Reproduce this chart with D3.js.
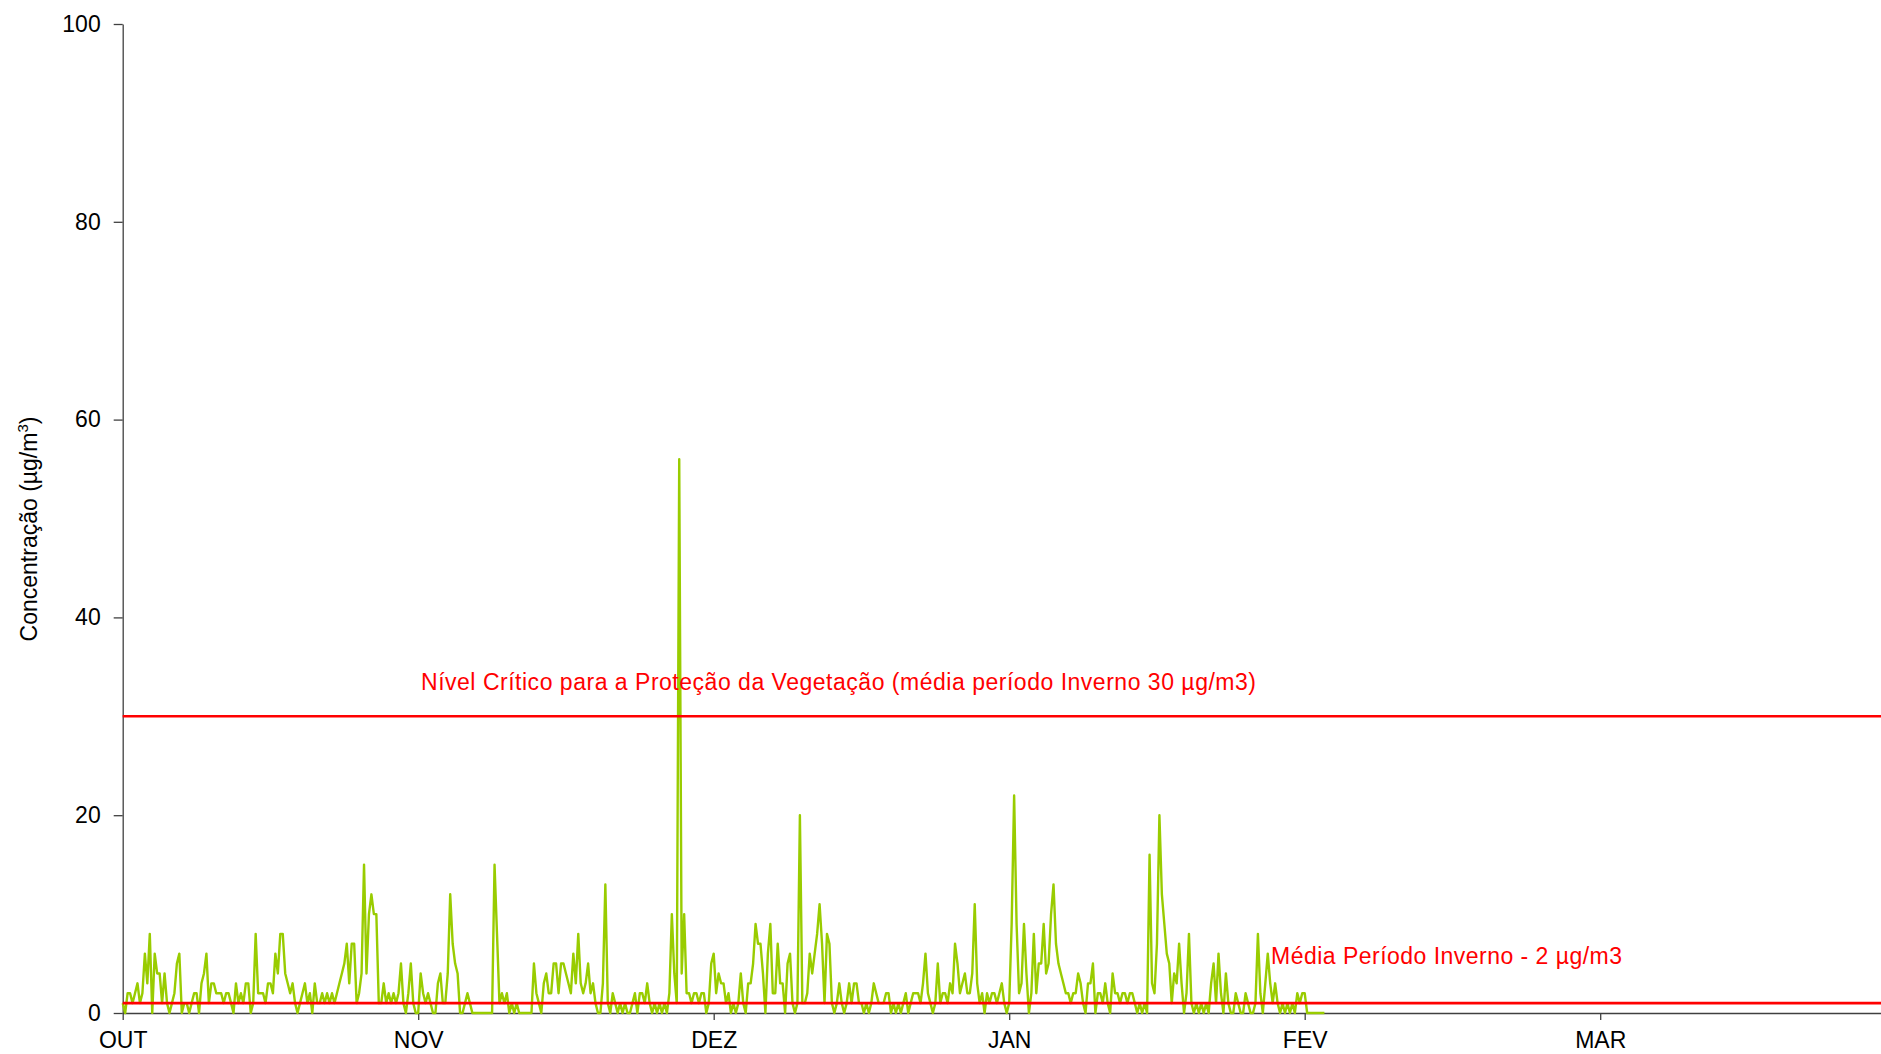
<!DOCTYPE html>
<html>
<head>
<meta charset="utf-8">
<script src="https://cdn.jsdelivr.net/npm/d3@7"></script>
<style>
  body { margin: 0; background: #fff; }
  svg { display: block; font-family: "Liberation Sans", Arial, sans-serif; }
  .axis path, .axis line { stroke: #404040; stroke-width: 1.3; }
  .axis text { fill: #000; font-size: 23px; }
</style>
</head>
<body>
<svg id="chart"></svg>
<script>
// ---- data: concentration readings, 120 points per month (every 6 h) ----
const monthLabels = ['OUT', 'NOV', 'DEZ', 'JAN', 'FEV', 'MAR'];
const yTicks = [0, 20, 40, 60, 80, 100];
const pointsPerMonth = 120;

const outValues = [1,0,2,2,1,2,3,1,2,6, 3,8,0,6,4,4,1,4,1,0, 1,2,5,6,0,1,1,0,1,2,
  2,0,3,4,6,1,3,3,2,2, 2,1,2,2,1,0,3,1,2,1, 3,3,0,1,8,2,2,2,1,3,
  3,2,6,4,8,8,4,3,2,3, 1,0,1,2,3,1,2,0,3,1, 1,2,1,2,1,2,1,2,3,4,
  5,7,3,7,7,1,2,4,15,4, 10,12,10,10,1,1,3,1,2,1, 2,1,2,5,1,0,2,5,1,0];
const novValues = [0,4,2,1,2,1,0,0,3,4, 1,1,4,12,7,5,4,0,0,1, 2,1,0,0,0,0,0,0,0,0,
  0,15,8,1,2,1,2,0,1,0, 1,0,0,0,0,0,0,5,2,1, 0,3,4,2,2,5,5,2,5,5,
  4,3,2,6,3,8,3,2,3,5, 2,3,1,0,0,3,13,1,0,2, 1,0,1,0,1,0,0,1,2,0,
  2,2,1,3,1,0,1,0,1,0, 1,0,2,10,4,1,56,4,10,2, 2,1,2,2,1,2,2,0,1,5];
const dezValues = [6,2,4,3,3,1,2,0,1,0, 1,4,1,0,3,3,5,9,7,7, 4,0,6,9,2,2,7,3,3,0,
  5,6,1,0,1,20,1,1,2,6, 4,6,8,11,7,1,8,7,1,0, 1,3,1,0,1,3,1,3,3,1,
  1,0,1,0,1,3,2,1,1,1, 2,2,0,1,0,1,0,1,2,0, 1,2,2,2,1,3,6,2,1,0,
  1,5,1,2,2,1,3,2,7,5, 2,3,4,2,2,4,11,3,1,2, 0,2,1,2,2,1,2,3,1,0];
const janValues = [1,9,22,9,2,3,9,4,0,2, 8,2,5,5,9,4,5,10,13,7, 5,4,3,2,2,1,2,2,4,3,
  1,0,3,3,5,0,2,2,1,3, 1,0,4,2,2,1,2,2,1,2, 2,1,0,1,0,1,0,16,3,2,
  7,20,12,9,6,5,1,4,3,7, 3,0,2,8,1,0,1,0,1,0, 1,0,3,5,1,6,2,0,4,1,
  0,0,2,1,0,0,2,1,0,0, 1,8,2,0,3,6,3,1,3,1, 0,1,0,1,0,1,0,2,1,2];
const fevValues = [2,0,0,0,0,0,0,0,0];

const criticalLevel = 30;   // Nível crítico
const winterMean = 1;       // drawn line for média período inverno

// ---- layout ----
const width = 1881, height = 1054;
const x0 = 122.7, monthPx = 295.5;
const yTop = 24, yBottom = 1013;

const svg = d3.select('#chart').attr('width', width).attr('height', height);

const x = d3.scaleLinear().domain([0, (width - x0) / monthPx]).range([x0, width]);
const y = d3.scaleLinear().domain([0, 100]).range([yBottom, yTop]);

const series = [];
[outValues, novValues, dezValues, janValues, fevValues].forEach((vals, m) => {
  vals.forEach((v, j) => series.push({ t: m + j / pointsPerMonth, v: v }));
});

// ---- axes ----
svg.append('g')
    .attr('class', 'axis')
    .attr('transform', `translate(${x0},0)`)
    .call(d3.axisLeft(y).tickValues(yTicks).tickSize(9).tickSizeOuter(0).tickPadding(13));

svg.append('g')
    .attr('class', 'axis')
    .attr('transform', `translate(0,${yBottom})`)
    .call(d3.axisBottom(x).tickValues(d3.range(monthLabels.length))
      .tickFormat(i => monthLabels[i]).tickSize(7).tickSizeOuter(0).tickPadding(12));

// y title
const title = svg.append('text')
    .attr('transform', 'translate(37,529) rotate(-90)')
    .attr('text-anchor', 'middle')
    .style('font-size', '23px');
title.append('tspan').text('Concentração (µg/m');
title.append('tspan').attr('dy', -9).style('font-size', '15px').text('3');
title.append('tspan').attr('dy', 9).text(')');

// ---- data line ----
svg.append('path')
    .datum(series)
    .attr('fill', 'none')
    .attr('stroke', '#99cc00')
    .attr('stroke-width', 2.4)
    .attr('stroke-linejoin', 'round')
    .attr('d', d3.line().x(d => x(d.t)).y(d => y(d.v)));

// ---- reference lines ----
[criticalLevel, winterMean].forEach(v => {
  svg.append('line')
      .attr('x1', x0).attr('x2', width)
      .attr('y1', y(v)).attr('y2', y(v))
      .attr('stroke', '#ff0000')
      .attr('stroke-width', 2.6);
});

svg.append('text')
    .attr('x', 421).attr('y', 690)
    .attr('fill', '#ff0000')
    .attr('textLength', 835)
    .style('font-size', '23px')
    .text('Nível Crítico para a Proteção da Vegetação (média período Inverno 30 µg/m3)');

svg.append('text')
    .attr('x', 1271).attr('y', 964)
    .attr('fill', '#ff0000')
    .attr('textLength', 351)
    .style('font-size', '23px')
    .text('Média Período Inverno - 2 µg/m3');
</script>
</body>
</html>
